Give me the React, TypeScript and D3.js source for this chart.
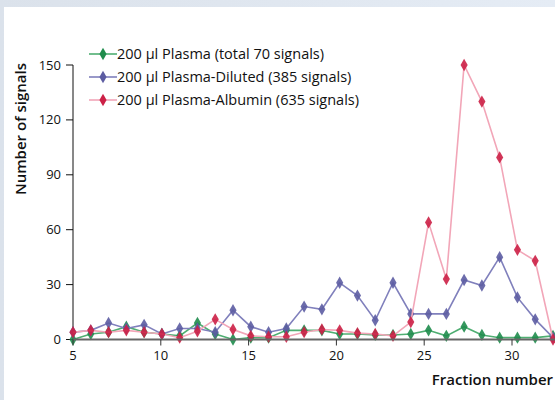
import React from "react";
import * as d3 from "d3";

const fractions = [5, 6, 7, 8, 9, 10, 11, 12, 13, 14, 15, 16, 17, 18, 19, 20, 21, 22, 23, 24, 25, 26, 27, 28, 29, 30, 31, 32];
const plasma = [0, 3, 4, 7, 4, 3, 2, 9, 3, 0, 1, 1, 5, 5, 5, 3, 3, 2.5, 2.5, 3, 5, 2, 7, 2.5, 1, 1, 1, 2];
const diluted = [4, 5, 9, 6, 8, 3, 6, 6, 4, 16, 7, 4, 6, 18, 16.5, 31, 24, 10.5, 31, 14, 14, 14, 32.5, 29.5, 45, 23, 11, 1];
const albumin = [4, 5, 4, 5, 4, 3, 1, 4.5, 11, 5.5, 2, 1.5, 1.5, 4, 5.5, 5, 3.5, 3, 2, 9.5, 64, 33, 150, 130, 99.5, 49, 43, 0];
const xTicks = [5, 10, 15, 20, 25, 30];
const yTicks = [0, 30, 60, 90, 120, 150];
const seriesNames = [
  "200 µl Plasma (total 70 signals)",
  "200 µl Plasma-Diluted (385 signals)",
  "200 µl Plasma-Albumin (635 signals)",
];
const seriesData = [plasma, diluted, albumin];
const lineColors = ["#4fae72", "#8080bc", "#f2a6b8"];
const markColors = ["#1f8c4c", "#5c5ca2", "#cc2046"];

const W = 555;
const H = 400;
const FONT = "'Open Sans', 'Noto Sans', sans-serif";

export default function App() {
  const x0 = 73;
  const yScale = d3.scaleLinear().domain([0, 150]).range([339.5, 65]);
  const axisX = d3.scaleLinear().domain([5, 30]).range([x0, 512]);
  const pointX = d3.scaleLinear().domain([5, 32]).range([x0, 553]);
  const line = d3
    .line<number>()
    .x((_, i) => pointX(fractions[i]))
    .y((d) => yScale(d));
  const symPath = d3.symbol().type(d3.symbolDiamond).size(44)() as string;

  return (
    <svg width={W} height={H} style={{ position: "absolute", left: 0, top: 0 }} fontFamily={FONT}>
      <defs>
        <linearGradient id="bg" x1="0" x2="1" y1="0" y2="0">
          <stop offset="0" stopColor="#dbe2eb" />
          <stop offset="1" stopColor="#e5ecf5" />
        </linearGradient>
      </defs>
      <rect x={0} y={0} width={W} height={H} fill="url(#bg)" />
      <rect x={4} y={7} width={W - 4} height={H - 7} fill="#ffffff" />

      {/* y axis */}
      <line x1={x0} x2={x0} y1={yScale(150)} y2={yScale(0)} stroke="#111" strokeWidth={1} />
      {yTicks.map((t) => (
        <g key={t}>
          <line x1={x0 - 7} x2={x0} y1={yScale(t)} y2={yScale(t)} stroke="#111" strokeWidth={1} />
          <text x={61} y={yScale(t)} dy="0.35em" textAnchor="end" fontSize={13} fill="#111">
            {t}
          </text>
        </g>
      ))}
      <text
        transform={`translate(26,129) rotate(-90)`}
        textAnchor="middle"
        fontSize={15}
        fontWeight={600}
        fill="#111"
      >
        Number of signals
      </text>

      {/* series */}
      {seriesData.map((s, k) => (
        <g key={k}>
          <path d={line(s) as string} fill="none" stroke={lineColors[k]} strokeWidth={1.6} />
          {s.map((v, i) => (
            <path
              key={i}
              d={symPath}
              transform={`translate(${pointX(fractions[i])},${yScale(v)})`}
              fill={markColors[k]}
              opacity={0.9}
            />
          ))}
        </g>
      ))}

      {/* x axis */}
      <line x1={x0} x2={W} y1={yScale(0)} y2={yScale(0)} stroke="#666" strokeWidth={2} />
      {xTicks.map((t) => (
        <g key={t}>
          <line x1={axisX(t)} x2={axisX(t)} y1={yScale(0)} y2={yScale(0) + 6} stroke="#333" strokeWidth={1} />
          <text x={axisX(t)} y={360} textAnchor="middle" fontSize={13} fill="#111">
            {t}
          </text>
        </g>
      ))}
      <text x={553} y={385} textAnchor="end" fontSize={15} fontWeight={600} fill="#111">
        Fraction number
      </text>

      {/* legend */}
      {seriesNames.map((n, k) => {
        const ly = 54 + k * 23;
        return (
          <g key={n}>
            <line x1={89} x2={117} y1={ly} y2={ly} stroke={lineColors[k]} strokeWidth={1.6} />
            <path d={symPath} transform={`translate(103,${ly})`} fill={markColors[k]} />
            <text x={117} y={ly} dy="0.35em" fontSize={14.5} fill="#111">
              {n}
            </text>
          </g>
        );
      })}
    </svg>
  );
}
